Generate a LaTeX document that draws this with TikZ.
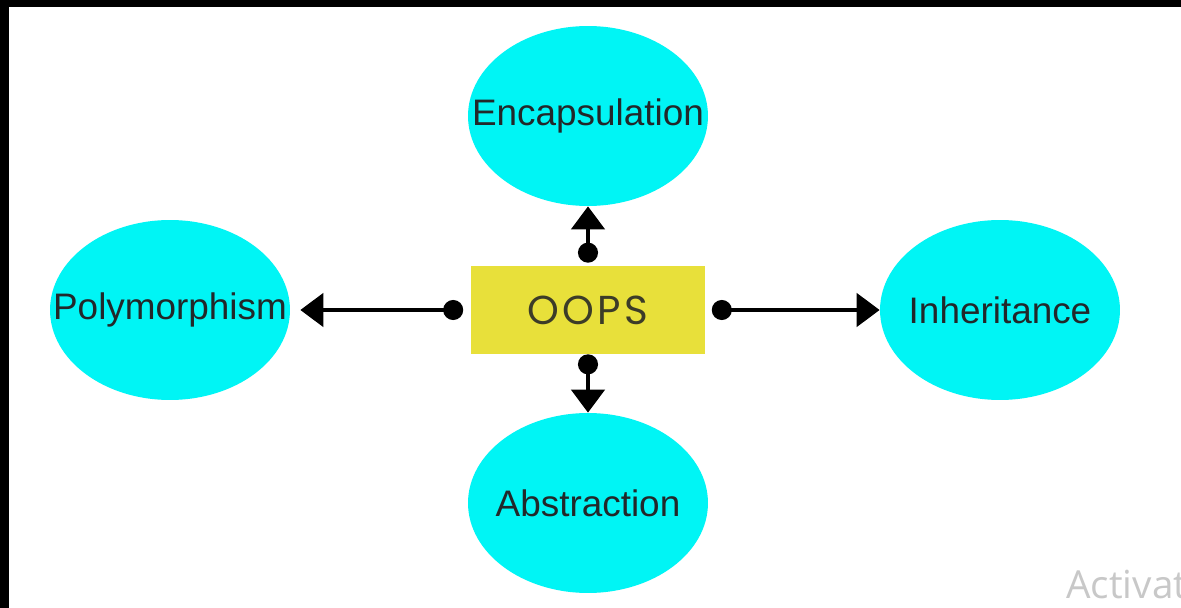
\documentclass[tikz,border=0pt]{standalone}
\usepackage{fontspec}
\setmainfont{Liberation Sans}
\newfontfamily\oopsfont{Poppins}[LetterSpace=8]
\newfontfamily\winfont{Open Sans}
\usetikzlibrary{positioning, arrows.meta, shapes.geometric}
\definecolor{ooaqua}{RGB}{0,245,245}
\definecolor{ooyellow}{RGB}{232,224,58}
\definecolor{ootext}{RGB}{34,40,42}
\definecolor{oooops}{RGB}{60,60,40}
\definecolor{oomark}{RGB}{200,200,200}

\begin{document}
\begin{tikzpicture}[
    x=0.02cm, y=-0.02cm,
    font=\fontsize{21}{25}\selectfont,
    concept/.style={ellipse, fill=ooaqua, minimum width=4.8cm, minimum height=3.6cm,
                    inner sep=0pt, label={[text=ootext]center:#1}},
    core/.style={rectangle, fill=ooyellow, minimum width=4.7cm, minimum height=1.76cm,
                 text=oooops, font=\oopsfont\fontsize{23}{27}\selectfont},
    link/.style={{Circle[length=0.4cm]}-{Triangle[length=0.46cm, width=0.66cm]},
                 line width=0.09cm},
    watermark/.style={anchor=base west, inner sep=0pt, text=oomark,
                 font=\winfont\fontsize{22}{26}\selectfont}
]

% --- Fondo y bordes ---
\fill[white] (0,0) rectangle (1181,608);
\useasboundingbox (0,0) rectangle (1181,608);
\fill[black] (0,0) rectangle (1181,7);
\fill[black] (0,0) rectangle (9,608);

% --- Nodo central ---
\node[core] (oops) at (588,310) {OOPS};

% --- Conceptos ---
\node[concept=Encapsulation] (enc) at (588,116) {};
\node[concept=Abstraction] (abs) at (588,503) {};
\node[concept=Polymorphism] (poly) at (170,310) {};
\node[concept=Inheritance] (inh) at (1000,310) {};

% --- Flechas ---
\draw[link, shorten <=0.06cm] (oops) -- (enc);
\draw[link] (oops) -- (abs);
\draw[link, shorten <=0.14cm, shorten >=0.2cm] (oops) -- (poly);
\draw[link, shorten <=0.12cm] (oops) -- (inh);

% --- Marca de agua ---
\node[watermark] (winmark) at (1066,598) {Activat};
\end{tikzpicture}
\end{document}
